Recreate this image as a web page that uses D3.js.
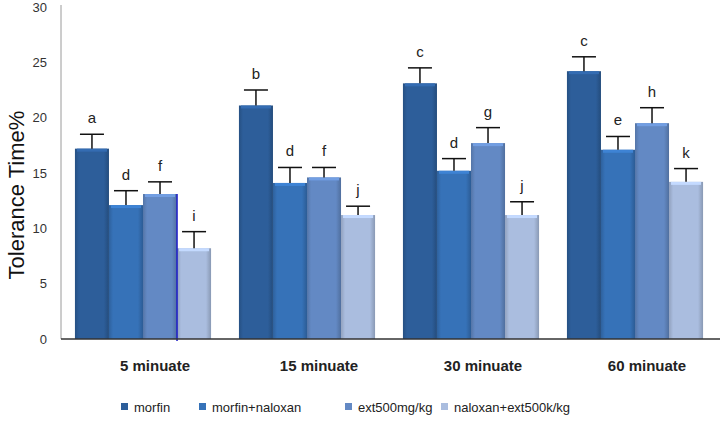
<!DOCTYPE html>
<html>
<head>
<meta charset="utf-8">
<script src="https://cdn.jsdelivr.net/npm/d3@7"></script>
<style>
  body { margin: 0; background: #fff; }
  svg { display: block; }
</style>
</head>
<body>
<div id="wrapper"></div>
<script>
const categories = ['5 minuate', '15 minuate', '30 minuate', '60 minuate']
const seriesNames = ['morfin', 'morfin+naloxan', 'ext500mg/kg', 'naloxan+ext500k/kg']
const morfin = [17.2, 21.1, 23.1, 24.2]
const morfinNaloxan = [12.1, 14.1, 15.2, 17.1]
const ext500 = [13.1, 14.6, 17.7, 19.5]
const naloxanExt = [8.2, 11.2, 11.2, 14.2]
const morfinErr = [1.3, 1.4, 1.4, 1.3]
const morfinNaloxanErr = [1.3, 1.4, 1.1, 1.2]
const ext500Err = [1.1, 0.9, 1.4, 1.4]
const naloxanExtErr = [1.5, 0.8, 1.2, 1.2]
const letters = [
  ['a', 'b', 'c', 'c'],
  ['d', 'd', 'd', 'e'],
  ['f', 'f', 'g', 'h'],
  ['i', 'j', 'j', 'k']
]
const yTicks = [0, 5, 10, 15, 20, 25, 30]
const colors = ['#2d5e9a', '#3672b8', '#6389c4', '#aabddf']

const values = [morfin, morfinNaloxan, ext500, naloxanExt]
const errors = [morfinErr, morfinNaloxanErr, ext500Err, naloxanExtErr]

const width = 720
const height = 426
const margin = {top: 7, left: 61, right: 3, bottom: 87}

const svg = d3.select('#wrapper').append('svg')
  .attr('width', width)
  .attr('height', height)

// gradients for the bevelled look
const defs = svg.append('defs')
colors.forEach((c, i) => {
  const g = defs.append('linearGradient').attr('id', 'g' + i)
    .attr('x1', '0%').attr('x2', '100%').attr('y1', '0%').attr('y2', '0%')
  const dark = d3.color(c).darker(0.45)
  g.append('stop').attr('offset', '0%').attr('stop-color', dark)
  g.append('stop').attr('offset', '12%').attr('stop-color', c)
  g.append('stop').attr('offset', '85%').attr('stop-color', c)
  g.append('stop').attr('offset', '100%').attr('stop-color', d3.color(c).darker(0.6))
})

const x = d3.scaleBand()
  .domain(categories)
  .range([margin.left, width - margin.right])
  .paddingInner(0.17)
  .paddingOuter(0.085)

const xSub = d3.scaleBand()
  .domain(seriesNames)
  .range([0, x.bandwidth()])

const y = d3.scaleLinear()
  .domain([0, 30])
  .range([height - margin.bottom, margin.top])

// y axis
const yAxis = svg.append('g')
  .attr('transform', `translate(${margin.left},0)`)
  .call(d3.axisLeft(y).tickValues(yTicks).tickSize(0).tickPadding(14))
yAxis.select('.domain').attr('stroke', '#9a9a9a').attr('d', `M0,${y(0)}V${margin.top - 2}`)
yAxis.selectAll('text')
  .attr('font-family', 'Liberation Sans, Arial, sans-serif')
  .attr('font-size', 13)
  .attr('fill', '#333')

svg.append('text')
  .attr('transform', `translate(24,${(y(0) + y(30)) / 2 + 22}) rotate(-90)`)
  .attr('text-anchor', 'middle')
  .attr('font-family', 'Liberation Sans, Arial, sans-serif')
  .attr('font-size', 22)
  .attr('fill', '#111')
  .text('Tolerance Time%')

// bars
const groups = svg.selectAll('.grp')
  .data(categories)
  .enter().append('g')
    .attr('class', 'grp')
    .attr('transform', d => `translate(${x(d)},0)`)

groups.each(function(cat, ci) {
  const g = d3.select(this)
  seriesNames.forEach((s, si) => {
    const v = values[si][ci]
    const e = errors[si][ci]
    const bx = xSub(s)
    const bw = xSub.bandwidth()
    const cx = bx + bw / 2
    g.append('rect')
      .attr('x', bx).attr('y', y(v))
      .attr('width', bw).attr('height', y(0) - y(v))
      .attr('fill', `url(#g${si})`)
    g.append('rect')
      .attr('x', bx + 2).attr('y', y(v))
      .attr('width', bw - 4).attr('height', 3)
      .attr('fill', d3.color(colors[si]).brighter(0.4))
    // error bar
    g.append('line')
      .attr('x1', cx).attr('x2', cx)
      .attr('y1', y(v)).attr('y2', y(v + e))
      .attr('stroke', '#111').attr('stroke-width', 1.5)
    g.append('line')
      .attr('x1', cx - 12).attr('x2', cx + 12)
      .attr('y1', y(v + e)).attr('y2', y(v + e))
      .attr('stroke', '#111').attr('stroke-width', 1.5)
    g.append('text')
      .attr('x', cx).attr('y', y(v + e) - 11)
      .attr('text-anchor', 'middle')
      .attr('font-family', 'Liberation Sans, Arial, sans-serif')
      .attr('font-size', 15)
      .attr('fill', '#222')
      .text(letters[si][ci])
  })
})

// odd blue line in first group
const firstX = x(categories[0]) + xSub(seriesNames[3])
svg.append('line')
  .attr('x1', firstX).attr('x2', firstX)
  .attr('y1', y(ext500[0])).attr('y2', y(0) + 2)
  .attr('stroke', '#1c1cc8').attr('stroke-width', 1.5)

// x axis line
svg.append('line')
  .attr('x1', margin.left).attr('x2', width)
  .attr('y1', y(0)).attr('y2', y(0))
  .attr('stroke', '#333').attr('stroke-width', 1.5)

// category labels
svg.selectAll('.cat')
  .data(categories)
  .enter().append('text')
    .attr('class', 'cat')
    .attr('x', d => x(d) + x.bandwidth() / 2 + 12)
    .attr('y', y(0) + 32)
    .attr('text-anchor', 'middle')
    .attr('font-family', 'Liberation Sans, Arial, sans-serif')
    .attr('font-weight', 'bold')
    .attr('font-size', 15)
    .attr('fill', '#222')
    .text(d => d)

// legend
const legendX = [121, 199, 345, 441]
const legend = svg.selectAll('.leg')
  .data(seriesNames)
  .enter().append('g')
    .attr('class', 'leg')
    .attr('transform', (d, i) => `translate(${legendX[i]},407)`)
legend.append('rect')
  .attr('x', 0).attr('y', -4)
  .attr('width', 7).attr('height', 7)
  .attr('fill', (d, i) => colors[i])
legend.append('text')
  .attr('x', 13).attr('y', 4.5)
  .attr('font-family', 'Liberation Sans, Arial, sans-serif')
  .attr('font-size', 13)
  .attr('fill', '#222')
  .text(d => d)
</script>
</body>
</html>
